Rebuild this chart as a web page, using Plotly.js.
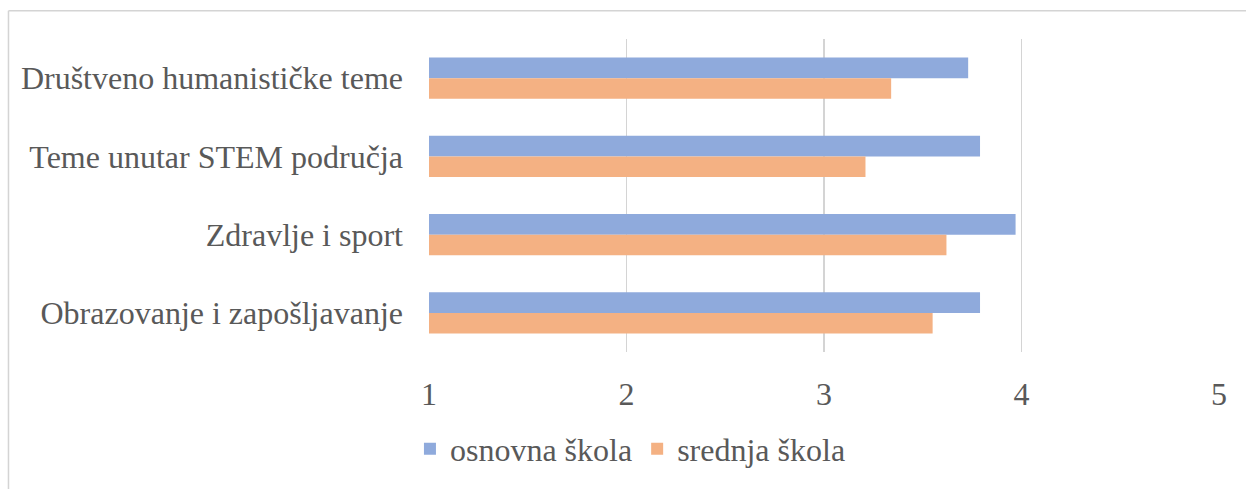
<!DOCTYPE html>
<html>
<head>
<meta charset="utf-8">
<script src="https://cdn.plot.ly/plotly-3.0.1.min.js"></script>
<style>html,body{margin:0;padding:0;background:#fff;}#chart{width:1246px;height:489px;}</style>
</head>
<body>
<div id="chart"></div>
<script>
const categories = ["Društveno humanističke teme", "Teme unutar STEM područja", "Zdravlje i sport", "Obrazovanje i zapošljavanje"];
const seriesNames = ["osnovna škola", "srednja škola"];
const osnovna = [3.73, 3.79, 3.97, 3.79];
const srednja = [3.34, 3.21, 3.62, 3.55];
const xTicks = [1, 2, 3, 4, 5];

const FONT = "'Liberation Serif', 'Times New Roman', serif";
const TXT = "#595959";
const GRID = "#d4d4d4";

const traces = [
  {type: "bar", orientation: "h", name: seriesNames[0], y: categories, x: osnovna,
   marker: {color: "#8faadc", line: {width: 0}}, hoverinfo: "x+name"},
  {type: "bar", orientation: "h", name: seriesNames[1], y: categories, x: srednja,
   marker: {color: "#f4b183", line: {width: 0}}, hoverinfo: "x+name"}
];

const layout = {
  width: 1246, height: 489,
  margin: {l: 429, r: 27, t: 39, b: 130, pad: 0},
  paper_bgcolor: "#fff", plot_bgcolor: "#fff",
  font: {family: FONT, size: 32, color: TXT},
  barmode: "group", bargap: 0.475, bargroupgap: 0,
  xaxis: {range: [1, 5], tickvals: xTicks, ticktext: xTicks.map(String),
    showgrid: true, gridcolor: GRID, gridwidth: 1.5, zeroline: false, showline: false,
    ticks: "", ticklabelstandoff: 20, tickfont: {family: FONT, size: 32, color: TXT}, fixedrange: true},
  yaxis: {autorange: "reversed", showgrid: false, zeroline: false, showline: false,
    ticks: "", ticklabelstandoff: 25, tickfont: {family: FONT, size: 32, color: TXT}, fixedrange: true},
  showlegend: true,
  legend: {orientation: "h", x: 0.255, xanchor: "center", y: -0.31, yanchor: "middle",
    font: {family: FONT, size: 32, color: TXT}, itemwidth: 30, bgcolor: "rgba(0,0,0,0)"},
  shapes: [
    {type: "line", xref: "paper", yref: "paper", x0: -0.5323, x1: -0.5323, y0: -0.5, y1: 1.0906,
     line: {color: GRID, width: 1.5}},
    {type: "line", xref: "paper", yref: "paper", x0: -0.5323, x1: 1.1, y0: 1.0906, y1: 1.0906,
     line: {color: GRID, width: 1.5}}
  ]
};

Plotly.newPlot("chart", traces, layout, {displayModeBar: false, staticPlot: true});
</script>
</body>
</html>
